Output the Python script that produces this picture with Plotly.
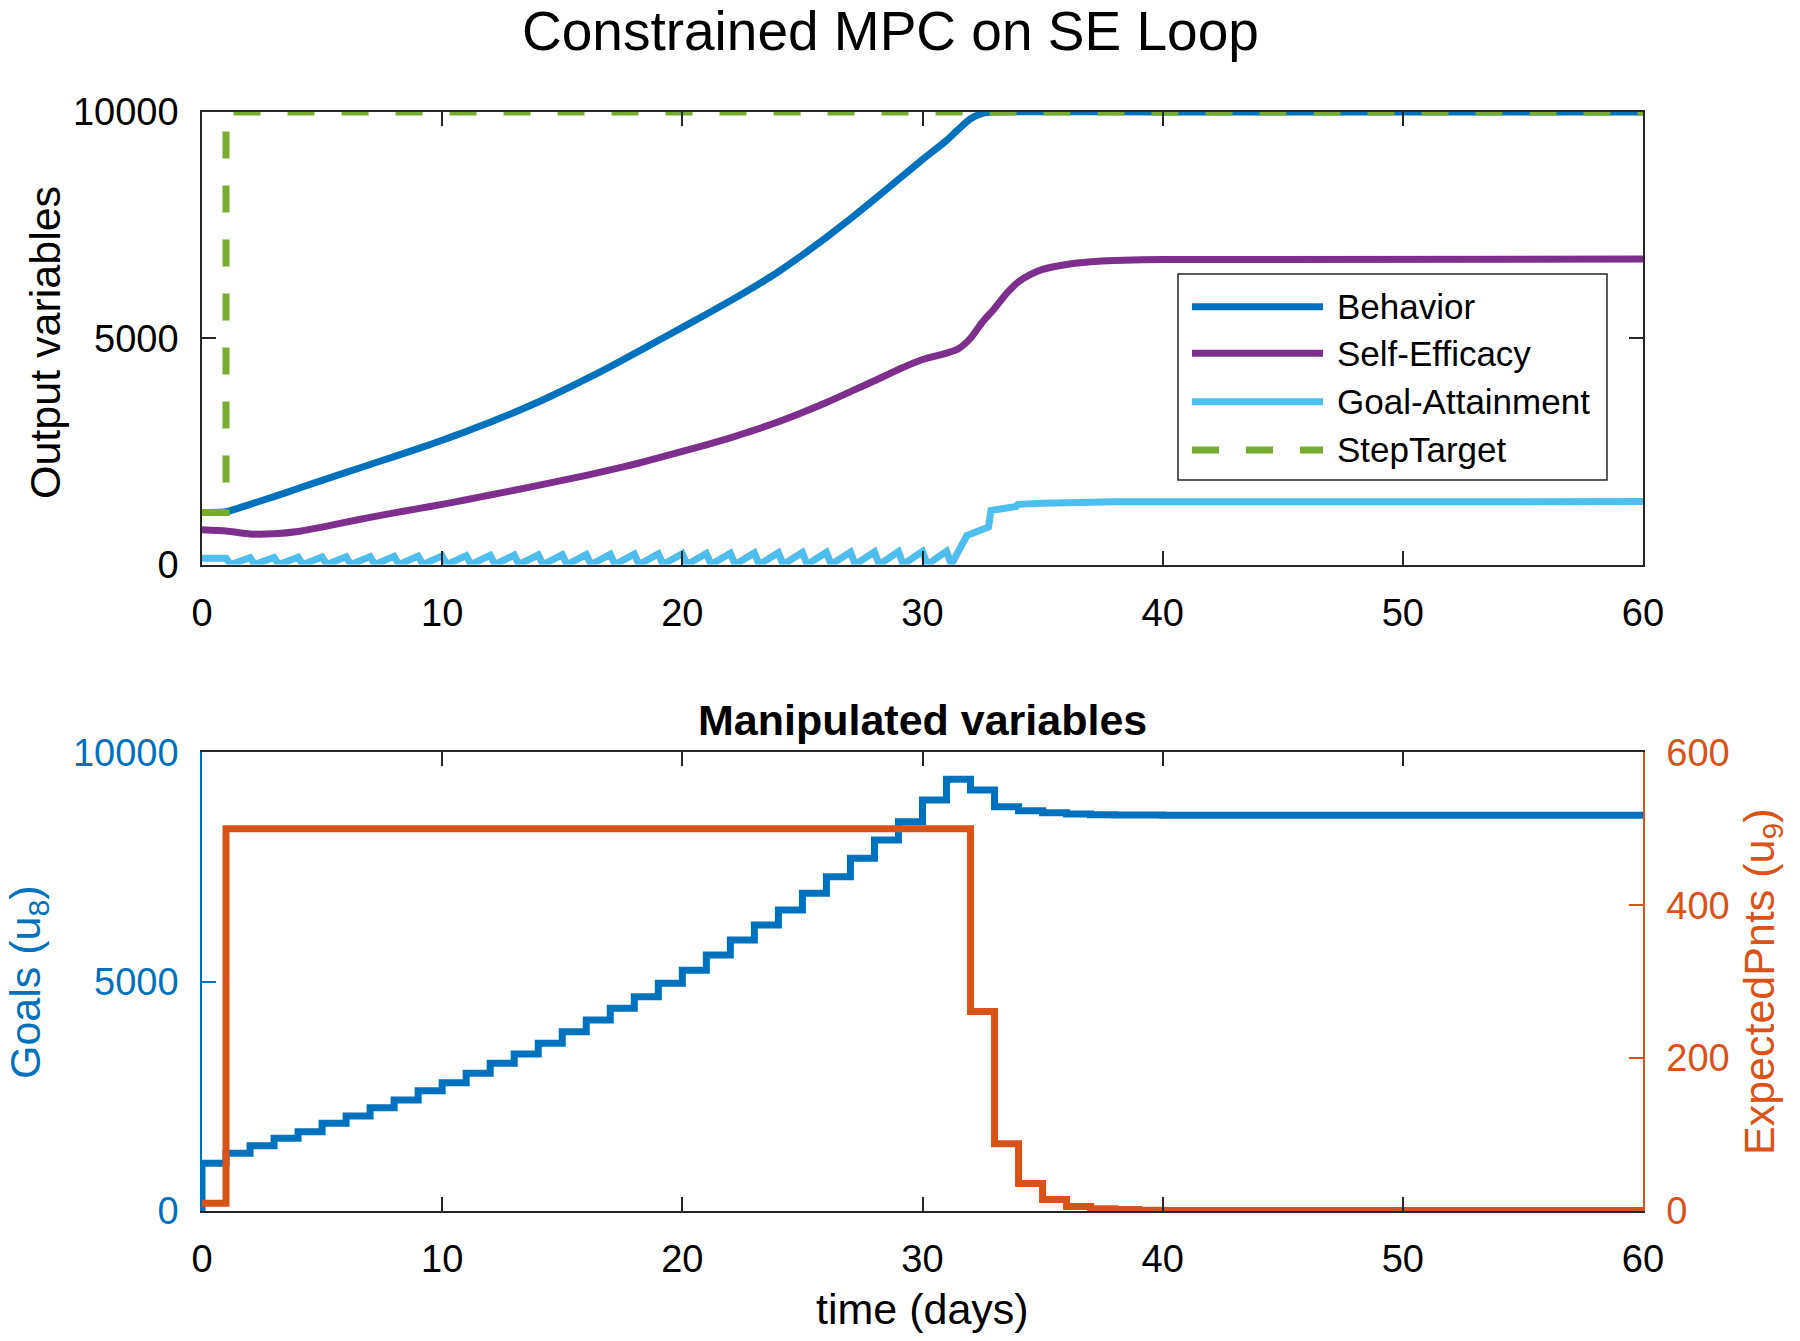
import plotly.graph_objects as go

# ---------------- data ----------------
# Top panel: output variables
beh_t = [0, 1, 2, 3, 4, 5, 6, 7, 8, 9, 10, 11, 12, 13, 14, 15, 16, 17, 18, 19, 20,
         21, 22, 23, 24, 25, 26, 27, 28, 29, 30, 31, 31.5, 32, 32.5, 33, 40, 50, 60]
beh_v = [1150, 1165, 1330, 1500, 1680, 1860, 2035, 2210, 2385, 2560, 2745, 2940, 3145,
         3360, 3590, 3840, 4100, 4375, 4660, 4950, 5240, 5530, 5830, 6140, 6470, 6840,
         7230, 7640, 8070, 8510, 8950, 9370, 9620, 9850, 9970, 10000, 10000, 10000, 10000]

se_t = [0, 1, 2, 3, 4, 5, 6, 7, 8, 9, 10, 11, 12, 13, 14, 15, 16, 17, 18, 19, 20,
        21, 22, 23, 24, 25, 26, 27, 28, 29, 30, 31, 31.5, 32, 32.5, 33, 33.5, 34, 34.5,
        35, 36, 37, 38, 40, 60]
se_v = [770, 740, 675, 680, 730, 825, 935, 1040, 1140, 1235, 1330, 1430, 1535, 1640,
        1750, 1860, 1970, 2090, 2215, 2355, 2500, 2645, 2800, 2970, 3155, 3360, 3580,
        3820, 4060, 4310, 4530, 4670, 4770, 5000, 5360, 5660, 5990, 6250, 6410, 6520,
        6630, 6690, 6720, 6740, 6750]

# Goal-attainment: initial level, daily peaks (end of day 1..31, before reset), tail after day 31
ga_start = 140
ga_peaks = [140, 150, 155, 160, 165, 170, 175, 180, 185, 190, 195, 200, 205, 210, 215,
            220, 225, 230, 235, 240, 245, 250, 255, 260, 265, 270, 275, 280, 285, 290, 295]
ga_reset = 0
ga_tail_t = [31.85, 32.75, 32.85, 33.9, 33.97, 35, 36, 38, 60]
ga_tail_v = [640, 830, 1190, 1280, 1330, 1355, 1370, 1385, 1390]

target_t = [0, 1, 1, 60]
target_v = [1150, 1150, 10000, 10000]

# Bottom panel: manipulated variables (held for one day each)
days = list(range(0, 61))
goals_v = [1040, 1257, 1424, 1584, 1730, 1911, 2071, 2253, 2420, 2624, 2798, 3001, 3219,
           3423, 3656, 3910, 4164, 4419, 4673, 4964, 5250, 5582, 5909, 6236, 6562, 6926,
           7289, 7689, 8088, 8488, 8960, 9411, 9178, 8814, 8727, 8683, 8655, 8640, 8635,
           8632, 8630, 8630, 8630, 8630, 8630, 8630, 8630, 8630, 8630, 8630, 8630, 8630,
           8630, 8630, 8630, 8630, 8630, 8630, 8630, 8630, 8630]
exp_v = [10] + [500] * 31 + [261, 88, 36, 15, 6, 3, 2, 1] + [0.5] * 21

x_ticks = [0, 10, 20, 30, 40, 50, 60]
y_ticks = [0, 5000, 10000]
y2_ticks = [0, 200, 400, 600]

# ---------------- style ----------------
C_BLUE = "#0072BD"
C_PURPLE = "#7E2F8E"
C_CYAN = "#4DBEEE"
C_GREEN = "#77AC30"
C_ORANGE = "#D95319"
C_AX = "#262626"
FONT = "Liberation Sans, Arial, Helvetica, sans-serif"
LW = 7
DASH = "27px,27px"

W, H = 1800, 1341
ML, MR, MT, MB = 202, 157, 112, 130
PW, PH = W - ML - MR, H - MT - MB


def px(x):
    return (x - ML) / PW


def py(y):
    return (H - MB - y) / PH


# build goal-attainment polyline from readings
ga_t = [0, 1]
ga_v = [ga_start, ga_peaks[0]]
for k in range(1, len(ga_peaks)):
    ga_t += [k + 0.2, k + 1]
    ga_v += [ga_reset, ga_peaks[k]]
ga_t += [len(ga_peaks) + 0.2] + ga_tail_t
ga_v += [ga_reset] + ga_tail_v

fig = go.Figure()
fig.add_trace(go.Scatter(x=beh_t, y=beh_v, mode="lines", name="Behavior",
                         line=dict(color=C_BLUE, width=LW, shape="spline", smoothing=0.6),
                         xaxis="x", yaxis="y"))
fig.add_trace(go.Scatter(x=se_t, y=se_v, mode="lines", name="Self-Efficacy",
                         line=dict(color=C_PURPLE, width=LW, shape="spline", smoothing=0.6),
                         xaxis="x", yaxis="y"))
fig.add_trace(go.Scatter(x=ga_t, y=ga_v, mode="lines", name="Goal-Attainment",
                         line=dict(color=C_CYAN, width=LW), xaxis="x", yaxis="y"))
fig.add_trace(go.Scatter(x=target_t, y=target_v, mode="lines", name="StepTarget",
                         line=dict(color=C_GREEN, width=LW, dash=DASH),
                         xaxis="x", yaxis="y"))

fig.add_trace(go.Scatter(x=[0] + days, y=[0] + goals_v, mode="lines", name="Goals",
                         line=dict(color=C_BLUE, width=LW, shape="hv"),
                         xaxis="x2", yaxis="y3"))
fig.add_trace(go.Scatter(x=days, y=exp_v, mode="lines", name="ExpectedPnts",
                         line=dict(color=C_ORANGE, width=LW, shape="hv"),
                         xaxis="x2", yaxis="y4"))

tick_font = dict(family=FONT, size=38, color="#000000")
common_x = dict(range=[0, 60], tickvals=x_ticks, ticks="inside", ticklen=14, tickwidth=1.5,
                tickcolor=C_AX, showline=True, linecolor=C_AX, linewidth=1.5,
                mirror="ticks", showgrid=False, zeroline=False, tickfont=tick_font,
                ticklabelstandoff=14)

dom_top = [py(564.5), 1.0]
dom_bot = [0.0, py(752.3)]

fig.update_layout(
    width=W, height=H,
    margin=dict(l=ML, r=MR, t=MT, b=MB, pad=0),
    paper_bgcolor="white", plot_bgcolor="white",
    showlegend=False,
    font=dict(family=FONT, color="#000000"),
    xaxis=dict(common_x, domain=[0, 1], anchor="y"),
    yaxis=dict(range=[0, 10000], tickvals=y_ticks, tickformat="d", domain=dom_top,
               anchor="x", ticks="inside", ticklen=14, tickwidth=1.5, tickcolor=C_AX,
               showline=True, linecolor=C_AX, linewidth=1.5, mirror="ticks",
               showgrid=False, zeroline=False, tickfont=tick_font, ticklabelstandoff=14),
    xaxis2=dict(common_x, domain=[0, 1], anchor="y3"),
    yaxis3=dict(range=[0, 10000], tickvals=y_ticks, tickformat="d", domain=dom_bot,
                anchor="x2", ticks="inside", ticklen=14, tickwidth=1.5, tickcolor=C_BLUE,
                showline=True, linecolor=C_BLUE, linewidth=1.5,
                showgrid=False, zeroline=False,
                tickfont=dict(family=FONT, size=38, color=C_BLUE), ticklabelstandoff=14),
    yaxis4=dict(range=[0, 600], tickvals=y2_ticks, tickformat="d", overlaying="y3",
                side="right", anchor="x2", ticks="inside", ticklen=14, tickwidth=1.5,
                tickcolor=C_ORANGE, showline=True, linecolor=C_ORANGE, linewidth=1.5,
                showgrid=False, zeroline=False,
                tickfont=dict(family=FONT, size=38, color=C_ORANGE), ticklabelstandoff=14),
)

ann = [
    dict(text="Constrained MPC on SE Loop", x=px(890), y=py(31), size=55, color="#000000",
         angle=0),
    dict(text="<b>Manipulated variables</b>", x=px(922), y=py(720), size=43, color="#000000",
         angle=0),
    dict(text="time (days)", x=px(922), y=py(1309), size=43, color="#000000", angle=0),
    dict(text="Output variables", x=px(45), y=py(343), size=43, color="#000000", angle=-90),
    dict(text="Goals (u<sub>8</sub>)", x=px(28), y=py(982), size=43, color=C_BLUE,
         angle=-90),
    dict(text="ExpectedPnts (u<sub>9</sub>)", x=px(1762), y=py(982), size=43, color=C_ORANGE,
         angle=-90),
]
for a in ann:
    fig.add_annotation(text=a["text"], x=a["x"], y=a["y"], xref="paper", yref="paper",
                       xanchor="center", yanchor="middle", showarrow=False,
                       textangle=a["angle"],
                       font=dict(family=FONT, size=a["size"], color=a["color"]))

# legend (drawn manually to match the long MATLAB legend samples)
leg_names = ["Behavior", "Self-Efficacy", "Goal-Attainment", "StepTarget"]
leg_colors = [C_BLUE, C_PURPLE, C_CYAN, C_GREEN]
leg_dash = ["solid", "solid", "solid", DASH]
leg_rows = [306.7, 353.3, 401.7, 450.0]
fig.add_shape(type="rect", xref="paper", yref="paper",
              x0=px(1178), x1=px(1607), y0=py(480), y1=py(274),
              line=dict(color=C_AX, width=1.5), fillcolor="white", layer="above")
for name, col, dsh, yy in zip(leg_names, leg_colors, leg_dash, leg_rows):
    fig.add_shape(type="line", xref="paper", yref="paper",
                  x0=px(1192), x1=px(1323), y0=py(yy), y1=py(yy),
                  line=dict(color=col, width=LW, dash=dsh), layer="above")
    fig.add_annotation(text=name, x=px(1335), y=py(yy), xref="paper", yref="paper",
                       xanchor="left", yanchor="middle", showarrow=False,
                       font=dict(family=FONT, size=35, color="#000000"))

fig.write_html("out.html", config={"displayModeBar": False},
               post_script="document.body.style.margin='0';document.body.style.overflow='hidden';")
